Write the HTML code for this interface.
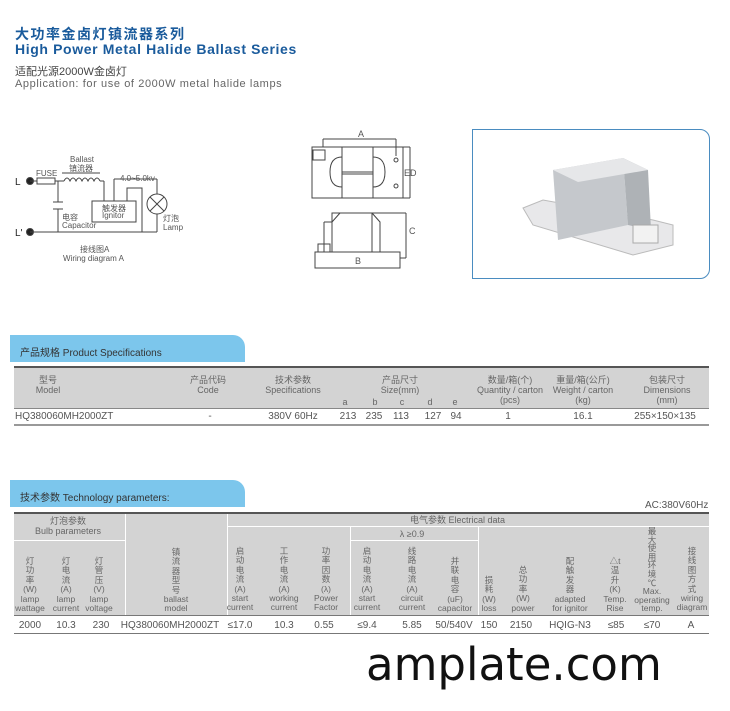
<!DOCTYPE html>
<html><head><meta charset="utf-8"><style>
body{margin:0;width:730px;height:711px;background:#fff;position:relative;overflow:hidden;font-family:"Liberation Sans","Noto Sans CJK SC",sans-serif;color:#555}
.a{position:absolute;white-space:nowrap}
.c{position:absolute;text-align:center;white-space:nowrap;transform:translateX(-50%)}
.tab{position:absolute;left:10px;width:235px;height:27px;background:#7cc6ec;border-top-right-radius:12px}
.tab span{position:absolute;left:10px;top:9px;font-size:10px;color:#333}
.g{position:absolute;background:#d3d3d3}
.ln{position:absolute;background:#555}
.v{position:absolute;width:1px;background:#fff}
.h{position:absolute;height:1px;background:#fff}
.s{font-size:9px;color:#666;line-height:10px}
.t{font-size:8.5px;color:#666;line-height:9.4px}
.d{font-size:10px;color:#555}
</style></head><body>
<div class="a" style="left:15px;top:24px;font-size:14px;font-weight:bold;color:#1a5b9c;letter-spacing:1.5px">大功率金卤灯镇流器系列</div>
<div class="a" style="left:15px;top:41px;font-size:14px;font-weight:bold;color:#1a5b9c;letter-spacing:0.62px">High Power Metal Halide Ballast Series</div>
<div class="a" style="left:15px;top:63px;font-size:11px;color:#444">适配光源2000W金卤灯</div>
<div class="a" style="left:15px;top:78px;font-size:11px;color:#666;letter-spacing:0.6px">Application: for use of 2000W metal halide lamps</div>

<svg class="a" style="left:0;top:120px" width="450" height="160" viewBox="0 120 450 160" fill="none" stroke="#444" stroke-width="1">
<circle cx="30" cy="181" r="3.5" fill="#222"/><circle cx="30" cy="232" r="3.5" fill="#222"/>
<line x1="30" y1="181" x2="37" y2="181"/><rect x="37" y="178" width="18" height="6"/>
<line x1="55" y1="181" x2="64" y2="181"/>
<path d="M64 181 q3 -6 6 0 q3 -6 6 0 q3 -6 6 0 q3 -6 6 0 q3 -6 6 0 q3 -6 6 0"/>
<line x1="62" y1="173" x2="100" y2="173"/>
<line x1="100" y1="181" x2="104" y2="181"/><line x1="104" y1="181" x2="104" y2="201"/>
<line x1="58" y1="181" x2="58" y2="202"/><line x1="53" y1="202" x2="63" y2="202"/><line x1="53" y1="209" x2="63" y2="209"/><line x1="58" y1="209" x2="58" y2="232"/>
<rect x="92" y="201" width="44" height="21"/>
<line x1="114" y1="201" x2="114" y2="179"/><line x1="114" y1="179" x2="157" y2="179"/><line x1="157" y1="179" x2="157" y2="194"/>
<circle cx="157" cy="204" r="10"/><line x1="150" y1="197" x2="164" y2="211"/><line x1="164" y1="197" x2="150" y2="211"/>
<line x1="157" y1="214" x2="157" y2="232"/>
<polyline points="127,201 127,188 142,188 142,232"/>
<line x1="30" y1="232" x2="157" y2="232"/>
<g fill="#555" stroke="none" font-size="8" font-family="Liberation Sans,Noto Sans CJK SC,sans-serif">
<text x="15" y="185" font-size="10" fill="#222">L</text><text x="15" y="236" font-size="10" fill="#222">L'</text>
<text x="36" y="176">FUSE</text><text x="70" y="162">Ballast</text><text x="69" y="171">镇流器</text>
<text x="120" y="181">4.0~5.0kv</text><text x="102" y="211">触发器</text><text x="102" y="218">Ignitor</text>
<text x="62" y="220">电容</text><text x="62" y="228">Capacitor</text><text x="163" y="221">灯泡</text><text x="163" y="230">Lamp</text>
<text x="80" y="252">接线图A</text><text x="63" y="261">Wiring diagram A</text>
<text x="358" y="137" font-size="9">A</text><text x="404" y="176" font-size="9">ED</text><text x="409" y="234" font-size="9">C</text><text x="355" y="264" font-size="9">B</text>
</g>
<line x1="323" y1="139" x2="396" y2="139"/><line x1="323" y1="139" x2="323" y2="147"/><line x1="396" y1="139" x2="396" y2="156"/>
<rect x="312" y="147" width="91" height="51"/><rect x="342" y="147" width="31" height="51"/>
<line x1="342" y1="172" x2="373" y2="172"/><line x1="342" y1="174" x2="373" y2="174"/>
<path d="M342 157 q-12 0 -12 15 q0 15 12 15"/><path d="M373 157 q12 0 12 15 q0 15 -12 15"/>
<rect x="313" y="150" width="12" height="10"/><circle cx="396" cy="160" r="2"/><circle cx="396" cy="186" r="2"/>
<line x1="403" y1="147" x2="410" y2="147"/><line x1="410" y1="147" x2="410" y2="198"/><line x1="403" y1="198" x2="410" y2="198"/>
<rect x="315" y="252" width="85" height="16"/><rect x="332" y="213" width="40" height="39"/>
<polyline points="332,222 340,213"/><polyline points="372,213 380,222 380,252"/><line x1="324" y1="222" x2="332" y2="222"/><line x1="324" y1="222" x2="324" y2="252"/>
<rect x="318" y="244" width="12" height="8"/>
<line x1="372" y1="213" x2="406" y2="213"/><line x1="406" y1="213" x2="406" y2="258"/><line x1="400" y1="258" x2="406" y2="258"/>
</svg>

<div class="a" style="left:472px;top:129px;width:236px;height:148px;border:1px solid #4a8cc0;border-radius:0 10px 10px 0"></div>
<svg class="a" style="left:473px;top:130px" width="235" height="147">
<polygon points="50,78 70,70 180,90 200,95 200,115 160,125 60,95" fill="#e8e8ea" stroke="#bbb"/>
<polygon points="80,40 150,28 155,95 85,110" fill="#c5c8cc"/>
<polygon points="150,28 175,40 178,100 155,95" fill="#aeb2b6"/>
<polygon points="80,40 150,28 175,40 105,52" fill="#e6e7e9"/>
<rect x="160" y="95" width="25" height="18" fill="#f2f2f2" stroke="#aaa"/>
</svg>

<div class="tab" style="top:335px"><span>产品规格 Product Specifications</span></div>
<div class="g" style="left:14px;top:366px;width:695px;height:43px"></div>
<div class="ln" style="left:14px;top:366px;width:695px;height:2px"></div>
<div class="ln" style="left:14px;top:408px;width:695px;height:1px;background:#888"></div>
<div class="ln" style="left:14px;top:424px;width:695px;height:2px;background:#999"></div>
<div class="c s" style="left:48px;top:375px">型号<br>Model</div>
<div class="c s" style="left:208px;top:375px">产品代码<br>Code</div>
<div class="c s" style="left:293px;top:375px">技术参数<br>Specifications</div>
<div class="c s" style="left:400px;top:375px">产品尺寸<br>Size(mm)</div>
<div class="c s" style="left:510px;top:375px">数量/箱(个)<br>Quantity / carton<br>(pcs)</div>
<div class="c s" style="left:583px;top:375px">重量/箱(公斤)<br>Weight / carton<br>(kg)</div>
<div class="c s" style="left:667px;top:375px">包装尺寸<br>Dimensions<br>(mm)</div>
<div class="c s" style="left:345px;top:397px">a</div><div class="c s" style="left:375px;top:397px">b</div><div class="c s" style="left:402px;top:397px">c</div><div class="c s" style="left:430px;top:397px">d</div><div class="c s" style="left:455px;top:397px">e</div>
<div class="a d" style="left:15px;top:411px">HQ380060MH2000ZT</div>
<div class="c d" style="left:210px;top:411px">-</div>
<div class="c d" style="left:293px;top:411px">380V 60Hz</div>
<div class="c d" style="left:348px;top:411px">213</div><div class="c d" style="left:374px;top:411px">235</div><div class="c d" style="left:401px;top:411px">113</div><div class="c d" style="left:433px;top:411px">127</div><div class="c d" style="left:456px;top:411px">94</div>
<div class="c d" style="left:508px;top:411px">1</div><div class="c d" style="left:583px;top:411px">16.1</div><div class="c d" style="left:665px;top:411px">255×150×135</div>

<div class="tab" style="top:480px"><span>技术参数 Technology parameters:</span></div>
<div class="a d" style="left:645px;top:500px">AC:380V60Hz</div>
<div class="g" style="left:14px;top:512px;width:695px;height:104px"></div>
<div class="ln" style="left:14px;top:512px;width:695px;height:2px"></div>
<div class="ln" style="left:14px;top:615px;width:695px;height:1px;background:#777"></div>
<div class="ln" style="left:14px;top:633px;width:695px;height:1px;background:#777"></div>
<div class="v" style="left:125px;top:514px;height:101px"></div>
<div class="v" style="left:227px;top:514px;height:101px"></div>
<div class="v" style="left:350px;top:526px;height:89px"></div>
<div class="v" style="left:478px;top:526px;height:89px"></div>
<div class="h" style="left:227px;top:526px;width:482px"></div>
<div class="h" style="left:350px;top:540px;width:128px"></div>
<div class="h" style="left:14px;top:540px;width:111px"></div>
<div class="c s" style="left:68px;top:516px">灯泡参数<br>Bulb parameters</div>
<div class="a s" style="left:410px;top:515px">电气参数 Electrical data</div>
<div class="c s" style="left:412px;top:529px">λ ≥0.9</div>
<div class="c t" style="left:30px;top:557px">灯<br>功<br>率<br>(W)<br>lamp<br>wattage</div>
<div class="c t" style="left:66px;top:557px">灯<br>电<br>流<br>(A)<br>lamp<br>current</div>
<div class="c t" style="left:99px;top:557px">灯<br>管<br>压<br>(V)<br>lamp<br>voltage</div>
<div class="c t" style="left:176px;top:548px">镇<br>流<br>器<br>型<br>号<br>ballast<br>model</div>
<div class="c t" style="left:240px;top:547px">启<br>动<br>电<br>流<br>(A)<br>start<br>current</div>
<div class="c t" style="left:284px;top:547px">工<br>作<br>电<br>流<br>(A)<br>working<br>current</div>
<div class="c t" style="left:326px;top:547px">功<br>率<br>因<br>数<br>(λ)<br>Power<br>Factor</div>
<div class="c t" style="left:367px;top:547px">启<br>动<br>电<br>流<br>(A)<br>start<br>current</div>
<div class="c t" style="left:412px;top:547px">线<br>路<br>电<br>流<br>(A)<br>circuit<br>current</div>
<div class="c t" style="left:455px;top:557px">并<br>联<br>电<br>容<br>(uF)<br>capacitor</div>
<div class="c t" style="left:489px;top:576px">损<br>耗<br>(W)<br>loss</div>
<div class="c t" style="left:523px;top:566px">总<br>功<br>率<br>(W)<br>power</div>
<div class="c t" style="left:570px;top:557px">配<br>触<br>发<br>器<br>adapted<br>for ignitor</div>
<div class="c t" style="left:615px;top:557px">△t<br>温<br>升<br>(K)<br>Temp.<br>Rise</div>
<div class="c t" style="left:652px;top:527px;line-height:8.6px">最<br>大<br>使<br>用<br>环<br>境<br>℃<br>Max.<br>operating<br>temp.</div>
<div class="c t" style="left:692px;top:547px">接<br>线<br>图<br>方<br>式<br>wiring<br>diagram</div>
<div class="c d" style="left:30px;top:620px">2000</div><div class="c d" style="left:66px;top:620px">10.3</div><div class="c d" style="left:101px;top:620px">230</div>
<div class="c d" style="left:170px;top:620px">HQ380060MH2000ZT</div>
<div class="c d" style="left:240px;top:620px">≤17.0</div><div class="c d" style="left:284px;top:620px">10.3</div><div class="c d" style="left:324px;top:620px">0.55</div>
<div class="c d" style="left:367px;top:620px">≤9.4</div><div class="c d" style="left:412px;top:620px">5.85</div><div class="c d" style="left:454px;top:620px">50/540V</div>
<div class="c d" style="left:489px;top:620px">150</div><div class="c d" style="left:521px;top:620px">2150</div><div class="c d" style="left:570px;top:620px">HQIG-N3</div>
<div class="c d" style="left:616px;top:620px">≤85</div><div class="c d" style="left:652px;top:620px">≤70</div><div class="c d" style="left:691px;top:620px">A</div>

<div class="a" style="left:366px;top:638px;font-size:45px;color:#111;font-family:'DejaVu Sans','Liberation Sans',sans-serif">amplate.com</div>
</body></html>
